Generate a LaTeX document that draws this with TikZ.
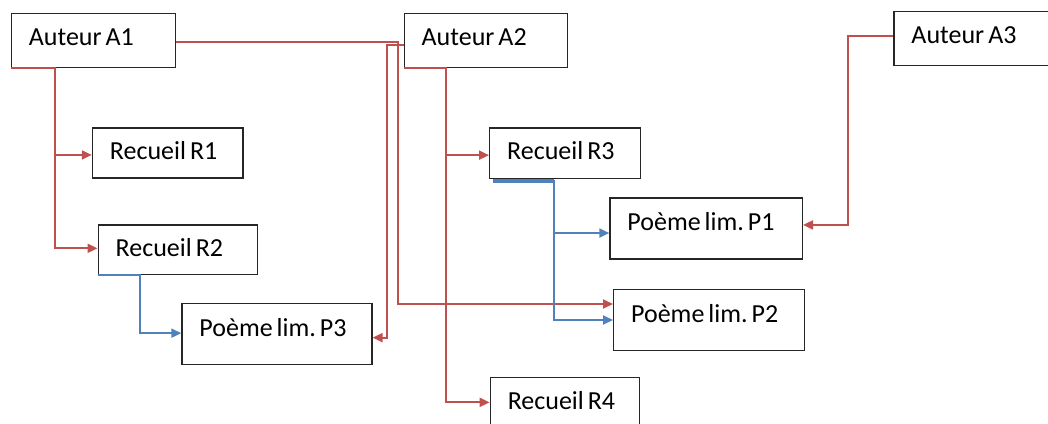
\documentclass[tikz,border=0pt]{standalone}
\usepackage{fontspec}
\setmainfont{Carlito}
\usetikzlibrary{arrows.meta}
\definecolor{lienrouge}{HTML}{C0504D}
\definecolor{lienbleu}{HTML}{4F81BD}
\tikzset{
	boite/.style 2 args={draw=black!85, line width=1.3pt, anchor=north west, inner xsep=17.5pt, inner ysep=0pt,
		align=left, text width=#1, minimum height=#2, text height=16.5pt,
		font=\fontsize{26}{30}\selectfont, execute at begin node={\frenchspacing\spaceskip=4pt\relax}},
	auteur/.style={text depth=7pt},
	recueil/.style={text depth=3pt},
	poeme/.style={text depth=12pt},
	rouge/.style={draw=lienrouge, line width=1.9pt, -{Triangle[length=10pt,width=9pt]}},
	bleu/.style={draw=lienbleu, line width=1.9pt, -{Triangle[length=10pt,width=9pt]}},
}
\begin{document}
\begin{tikzpicture}[x=1pt,y=-1pt]
			\useasboundingbox (0,0) rectangle (1048,423);
			
			% auteurs
			\node[boite={129pt}{54pt}, auteur] (A1) at (10.7,12.7) {Auteur A1};
			\node[boite={128pt}{54pt}, auteur] (A2) at (403.5,12.7) {Auteur A2};
			\node[boite={135pt}{54pt}, auteur] (A3) at (893.3,10.7) {Auteur A3};
			
			% recueils
			\node[boite={115.4pt}{50pt}, recueil] (R1) at (91.8,127.3) {Recueil R1};
			\node[boite={124pt}{49.7pt}, recueil] (R2) at (97.5,224.3) {Recueil R2};
			\node[boite={116pt}{50.4pt}, recueil] (R3) at (489,127.3) {Recueil R3};
			\node[boite={114pt}{50pt}, recueil] (R4) at (489.6,376.7) {Recueil R4};
			
			% poemes
			\node[boite={157.4pt}{61pt}, poeme] (P1) at (609.3,197.3) {Poème lim. P1};
			\node[boite={155.5pt}{61.3pt}, poeme] (P2) at (613,288.7) {Poème lim. P2};
			\node[boite={155pt}{61pt}, poeme] (P3) at (181.3,303) {Poème lim. P3};
			
			% liens auteur -> recueil / poeme
			\draw[rouge] (A1.south west) -- ++(44.5,0) |- ([yshift=-2pt]R1.west);
			\draw[rouge] (A1.south west) -- ++(44.5,0) |- ([yshift=1.5pt]R2.west);
			\draw[rouge] (A2.south west) -- ++(42.2,0) |- ([yshift=-2pt]R3.west);
			\draw[rouge] (A2.south west) -- ++(42.2,0) |- (R4.west);
			\draw[rouge] ([yshift=-2pt]A1.east) -- ++(222,0) |- ([yshift=16pt]P2.west);
			\draw[rouge] ([yshift=-5pt]A2.west) -- ++(-16.5,0) |- ([yshift=-3.5pt]P3.east);
			\draw[rouge] ([yshift=2pt]A3.west) -- ++(-45.5,0) |- ([yshift=3.5pt]P1.east);
			
			% liens recueil -> poeme
			\draw[bleu] (R2.south west) -- ++(42.5,0) |- ([yshift=1pt]P3.west);
			\draw[draw=lienbleu, line width=3.5pt] ([xshift=4pt,yshift=-2pt]R3.south west) -- ++(61,0);
			\draw[bleu] ([xshift=4pt,yshift=-2pt]R3.south west) -- ++(61,0) |- ([yshift=-4.6pt]P1.west);
			\draw[bleu] ([xshift=4pt,yshift=-2pt]R3.south west) -- ++(61,0) |- (P2.west);
\end{tikzpicture}
\end{document}
